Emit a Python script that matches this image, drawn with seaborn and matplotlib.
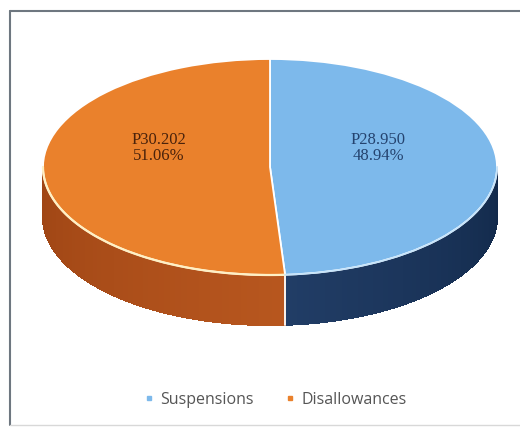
import numpy as np
import matplotlib
matplotlib.use("Agg")
import matplotlib.pyplot as plt
import seaborn as sns
from matplotlib.lines import Line2D

# data
labels = ["Suspensions", "Disallowances"]
amounts = [28.950, 30.202]
top_colors = ["#7DB9EB", "#EA812C"]
side_dark = [(0.07, 0.16, 0.29), (0.62, 0.27, 0.08)]
side_light = [(0.13, 0.24, 0.40), (0.72, 0.34, 0.12)]

sns.set_theme(style="white")
plt.rcParams['font.family'] = ['Liberation Serif', 'DejaVu Serif']

W, H = 520, 429
cx, cy, rx, ry, depth = 270, 167, 227, 108, 50   # pixel geometry of the 3d disc

fig = plt.figure(figsize=(W / 100, H / 100), dpi=100)
ax = fig.add_axes([0, 0, 1, 1])

total = sum(amounts)
d = depth / ry
split = 90 - 360 * amounts[0] / total   # where blue ends (deg)

def side(a0, a1, c_dark, c_light, n=60):
    th = np.radians(np.linspace(a0, a1, n + 1))
    for i in range(n):
        f = i / n
        c = np.array(c_dark) * (1 - f) + np.array(c_light) * f
        xs = [np.cos(th[i]), np.cos(th[i + 1]), np.cos(th[i + 1]), np.cos(th[i])]
        ys = [np.sin(th[i]), np.sin(th[i + 1]), np.sin(th[i + 1]) - d, np.sin(th[i]) - d]
        ax.fill(xs, ys, color=c, lw=0.8, ec=c, zorder=1, antialiased=False)

# front walls: blue from split to 0, orange from -180 to split
side(0, split, side_dark[0], side_light[0])
side(-180, split, side_dark[1], side_light[1])
ax.plot([np.cos(np.radians(split))] * 2,
        [np.sin(np.radians(split)), np.sin(np.radians(split)) - d],
        color="white", lw=1.3, zorder=2)

fmt = iter(amounts)
wedges, texts, autotexts = ax.pie(
    amounts, colors=top_colors, startangle=90, counterclock=False,
    radius=1, center=(0, 0), frame=True,
    autopct=lambda p: "P{:.3f}\n{:.2f}%".format(next(fmt), p),
    wedgeprops=dict(edgecolor="white", linewidth=1.3),
    textprops=dict(fontsize=12, linespacing=1.0))
for w in wedges:
    w.set_zorder(3)

# rim highlight on front edge
th = np.radians(np.linspace(-180, split, 100))
ax.plot(np.cos(th), np.sin(th), color="#FFF0C4", lw=1.6, zorder=4)
th = np.radians(np.linspace(split, 0, 100))
ax.plot(np.cos(th), np.sin(th), color="#C6E4FB", lw=1.2, zorder=4)

# data labels
lab_pos = [((378 - cx) / rx, (cy - 148) / ry), ((159 - cx) / rx, (cy - 148) / ry)]
lab_col = ["#24436F", "#4A220B"]
for t, p, c in zip(autotexts, lab_pos, lab_col):
    t.set_position(p)
    t.set_color(c)
    t.set_zorder(5)
    t.set_ha("center")
    t.set_va("center")

ax.set_aspect("auto")
ax.set_xlim(-cx / rx, (W - cx) / rx)
ax.set_ylim(-(H - cy) / ry, cy / ry)
ax.set_axis_off()

handles = [Line2D([], [], ls="", marker="s", markersize=3.5, color=c) for c in top_colors]
leg = fig.legend(handles, labels, loc="center", bbox_to_anchor=(0.529, 0.068),
                 ncol=2, frameon=False, handlelength=0.6, handletextpad=0.4,
                 columnspacing=2.0, prop=dict(family=["Open Sans", "DejaVu Sans"], size=11.5))
for t in leg.get_texts():
    t.set_color("#555555")

# chart border
fig.add_artist(Line2D([10 / W, 10 / W], [1 - 425 / H, 1 - 11 / H], color="#6E7780", lw=1.5))
fig.add_artist(Line2D([10 / W, 1], [1 - 11 / H, 1 - 11 / H], color="#6E7780", lw=1.5))
fig.add_artist(Line2D([10 / W, 1], [1 - 425 / H, 1 - 425 / H], color="#D8D8D8", lw=1.0))

fig.savefig("out.png", dpi=100)
